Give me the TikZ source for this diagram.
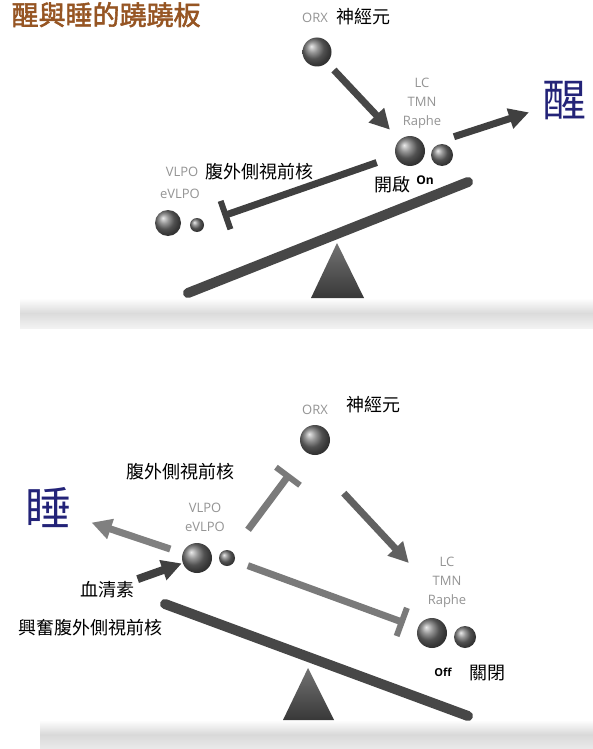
\documentclass[tikz,border=0pt]{standalone}
\usepackage{fontspec}
\setmainfont{Open Sans}
\newfontfamily\cjk[AutoFakeBold=2]{Noto Sans CJK TC}
\usepackage{tikz}
\usetikzlibrary{arrows.meta}
\usetikzlibrary{shapes,arrows}
\definecolor{titlebrown}{RGB}{150,85,35}
\definecolor{inkblue}{RGB}{35,35,120}

\begin{document}
\begin{tikzpicture}[x=1pt,y=-1pt]
	\def \topground{298}
	\def \lowground{720}
	\tikzstyle{big-ball}=[circle,shading=ball,ball color=black!55,inner sep=0pt,minimum size=30pt]
	\tikzstyle{small-ball}=[circle,shading=ball,ball color=black!55,inner sep=0pt,minimum size=16pt]
	\tikzstyle{gray-tag}=[font=\fontsize{13}{19}\selectfont,text=black!42,align=center,inner sep=1pt]
	\tikzstyle{zh}=[font=\cjk\fontsize{18}{20}\selectfont,inner sep=1pt]
	\tikzstyle{excite}=[line width=7pt,-{Triangle[length=20pt,width=20pt]}]
	\tikzstyle{inhibit}=[line width=7pt,-{Bar[width=30pt,line width=6pt]}]
	\tikzstyle{beam}=[line width=10pt,line cap=round,draw=black!72]
	\fill[white] (0,0) rectangle (593,749);
	\clip (0,0) rectangle (593,749);
	\node[font=\cjk\bfseries\fontsize{27}{27}\selectfont,text=titlebrown,anchor=base west] (title) at (8,25) {醒與睡的蹺蹺板};

	% floors, props and planks
	\shade[top color=white,bottom color=black!5,middle color=black!14] (20,\topground) rectangle (593,328);
	\shade[top color=white,bottom color=black!8,middle color=black!15] (40,\lowground) rectangle (593,749);
	\shade[top color=black!55,bottom color=black!78] (337,243) -- (364,\topground) -- (311,\topground) -- cycle;
	\shade[top color=black!55,bottom color=black!78] (308,668) -- (334,\lowground) -- (283,\lowground) -- cycle;
	\draw[beam] (188,293) -- (468,182);
	\draw[beam] (165,604) -- (468,716);

	% awake: orexin on
	\node[gray-tag] (orx-a-tag) at (315,18) {ORX};
	\node[zh] (orx-a-zh) at (363,17) {神經元};
	\node[big-ball,minimum size=29pt] (orx-a) at (317,52) {};
	\node[gray-tag] (lc-a-tag) at (422,103) {LC\\TMN\\Raphe};
	\node[big-ball] (lc-a) at (410,151) {};
	\node[small-ball,minimum size=22pt] (lcs-a) at (442,155) {};
	\node[zh] (on-zh) at (392,185) {開啟};
	\node[font=\bfseries\fontsize{12}{12}\selectfont] (on-tag) at (425,180) {On};
	\node[font=\cjk\fontsize{44}{44}\selectfont,text=inkblue] (wake) at (564,101) {醒};
	\node[gray-tag] (vlpo-a-tag) at (182,172) {VLPO};
	\node[zh] (vlpo-a-zh) at (259,172) {腹外側視前核};
	\node[gray-tag] (evlpo-a-tag) at (180,194) {eVLPO};
	\node[big-ball,minimum size=26pt] (vlpo-a) at (168,223) {};
	\node[small-ball,minimum size=14pt] (vlps-a) at (197,225) {};

	\path (orx-a)	edge[excite,draw=black!72,shorten <=10pt,shorten >=14pt]	(lc-a)
		(lc-a)	edge[excite,draw=black!75,shorten <=31pt,shorten >=10pt]	(wake)
		(lc-a)	edge[inhibit,draw=black!75,shorten <=20pt,shorten >=20pt]	(vlps-a);

	% asleep: orexin off
	\node[gray-tag] (orx-b-tag) at (315,410) {ORX};
	\node[zh] (orx-b-zh) at (373,405) {神經元};
	\node[big-ball] (orx-b) at (315,440) {};
	\node[zh] (vlpo-b-zh) at (180,472) {腹外側視前核};
	\node[gray-tag] (vlpo-b-tag) at (205,517) {VLPO\\eVLPO};
	\node[big-ball] (vlpo-b) at (197,558) {};
	\node[small-ball] (vlps-b) at (227,558) {};
	\node[font=\cjk\fontsize{46}{46}\selectfont,text=inkblue] (sleep) at (48,508) {睡};
	\node[gray-tag] (lc-b-tag) at (447,582) {LC\\TMN\\Raphe};
	\node[big-ball] (lc-b) at (432,633) {};
	\node[small-ball,minimum size=22pt] (lcs-b) at (465,637) {};
	\node[font=\bfseries\fontsize{11}{12}\selectfont] (off-tag) at (443,672) {Off};
	\node[zh] (off-zh) at (487,673) {關閉};
	\node[zh] (sero) at (107,590) {血清素};
	\node[zh] (excite-zh) at (90,628) {興奮腹外側視前核};

	\path (vlpo-b)	edge[excite,draw=black!50,shorten <=13pt,shorten >=18pt]	(sleep)
		(vlps-b)	edge[inhibit,draw=black!52,shorten <=27pt,shorten >=27pt]	(orx-b)
		(orx-b.south west)	edge[excite,draw=black!62,shorten <=58pt,shorten >=26pt]	(lc-b-tag.west)
		(vlps-b)	edge[inhibit,draw=black!52,shorten <=14pt,shorten >=14pt]	(lc-b)
		(sero)	edge[excite,draw=black!75,line width=8pt,shorten <=4pt,shorten >=1pt]	(vlpo-b);
\end{tikzpicture}
\end{document}
